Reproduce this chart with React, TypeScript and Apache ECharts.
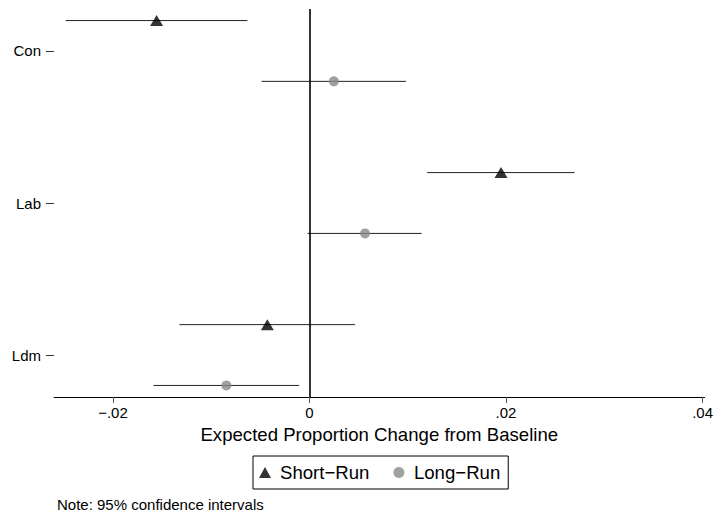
import React, { useEffect, useRef } from "react";
import * as echarts from "echarts";

// ---- Data ----
const categories = ["Con", "Lab", "Ldm"];
const shortRun = [-0.01556, 0.01949, -0.00429];
const shortLow = [-0.0248, 0.01198, -0.01323];
const shortHigh = [-0.00632, 0.02697, 0.00464];
const longRun = [0.00248, 0.00565, -0.00846];
const longLow = [-0.00487, -0.0002, -0.01587];
const longHigh = [0.00982, 0.01141, -0.00105];
const xTicks = [-0.02, 0, 0.02, 0.04];
const seriesNames = ["Short\u2212Run", "Long\u2212Run"];
const xTitle = "Expected Proportion Change from Baseline";
const note = "Note: 95% confidence intervals";

const FONT = "'Liberation Sans', Arial, Helvetica, sans-serif";

function fmtTick(v: number): string {
  if (Math.abs(v) < 1e-12) return "0";
  const s = Math.abs(v).toFixed(2).replace(/^0/, "");
  return v < 0 ? "\u2212" + s : s;
}

export default function App() {
  const ref = useRef<HTMLDivElement>(null);

  useEffect(() => {
    if (!ref.current) return;
    const chart = echarts.init(ref.current, undefined, { renderer: "svg" });

    const n = categories.length;
    const rowPos = categories.map((_, i) => n - i);
    const yTickVals = rowPos.slice();

    const shortPts = shortRun.map((v, i) => [v, rowPos[i] + 0.2]);
    const longPts = longRun.map((v, i) => [v, rowPos[i] - 0.2]);
    const shortCI = shortLow.map((lo, i) => [lo, shortHigh[i], rowPos[i] + 0.2]);
    const longCI = longLow.map((lo, i) => [lo, longHigh[i], rowPos[i] - 0.2]);

    const ciRender = (params: any, api: any) => {
      const p1 = api.coord([api.value(0), api.value(2)]);
      const p2 = api.coord([api.value(1), api.value(2)]);
      return {
        type: "line",
        shape: { x1: p1[0], y1: p1[1], x2: p2[0], y2: p2[1] },
        style: { stroke: "#222", lineWidth: 1 },
      };
    };

    const option: any = {
      animation: false,
      backgroundColor: "#fff",
      textStyle: { fontFamily: FONT },
      grid: { left: 54, right: 10, top: 9, bottom: 118, containLabel: false },
      xAxis: {
        type: "value",
        min: -0.026,
        max: 0.0402,
        name: xTitle,
        nameLocation: "middle",
        nameGap: 21,
        nameTextStyle: { fontSize: 18.6, color: "#000", fontFamily: FONT },
        axisLine: { show: true, onZero: false, lineStyle: { color: "#000", width: 1 } },
        axisTick: {
          show: true,
          length: 6,
          customValues: xTicks,
          lineStyle: { color: "#555", width: 1 },
        },
        axisLabel: {
          show: true,
          customValues: xTicks,
          formatter: (v: number) => fmtTick(v),
          fontSize: 15,
          color: "#000",
          fontFamily: FONT,
          margin: 8,
        },
        splitLine: { show: false },
      },
      yAxis: {
        type: "value",
        min: 0.724,
        max: 3.276,
        axisLine: { show: false, onZero: false },
        axisTick: {
          show: true,
          length: 8,
          customValues: yTickVals,
          lineStyle: { color: "#333", width: 1 },
        },
        axisLabel: {
          show: true,
          customValues: yTickVals,
          formatter: (v: number) => {
            const idx = rowPos.findIndex((p) => Math.abs(p - v) < 1e-6);
            return idx >= 0 ? categories[idx] : "";
          },
          fontSize: 15,
          color: "#000",
          fontFamily: FONT,
          margin: 13,
        },
        splitLine: { show: false },
      },
      legend: {
        show: true,
        data: [
          { name: seriesNames[0], icon: "triangle" },
          { name: seriesNames[1], icon: "circle" },
        ],
        left: 253,
        top: 456,
        orient: "horizontal",
        padding: [7, 8, 7, 6],
        itemGap: 24,
        itemWidth: 12,
        itemHeight: 11,
        borderColor: "#000",
        borderWidth: 1,
        borderRadius: 0,
        backgroundColor: "#fff",
        textStyle: { fontSize: 18.6, color: "#000", fontFamily: FONT, padding: [0, 0, 0, 4] },
      },
      graphic: [
        {
          type: "text",
          left: 57,
          top: 497,
          style: { text: note, fontSize: 15, fill: "#000", fontFamily: FONT },
        },
      ],
      series: [
        {
          type: "custom",
          name: "shortCI",
          renderItem: ciRender,
          data: shortCI,
          encode: { x: [0, 1], y: 2 },
          z: 2,
          silent: true,
          markLine: {
            silent: true,
            symbol: ["none", "none"],
            label: { show: false },
            lineStyle: { color: "#000", width: 1.6, type: "solid" },
            data: [{ xAxis: 0 }],
          },
        },
        {
          type: "custom",
          name: "longCI",
          renderItem: ciRender,
          data: longCI,
          encode: { x: [0, 1], y: 2 },
          z: 2,
          silent: true,
        },
        {
          type: "scatter",
          name: seriesNames[0],
          data: shortPts,
          symbol: "triangle",
          symbolSize: [13, 11],
          itemStyle: { color: "#000" },
          z: 5,
        },
        {
          type: "scatter",
          name: seriesNames[1],
          data: longPts,
          symbol: "circle",
          symbolSize: 10,
          itemStyle: { color: "#888" },
          z: 5,
        },
      ],
    };

    chart.setOption(option);
    return () => chart.dispose();
  }, []);

  return (
    <div
      ref={ref}
      style={{ position: "fixed", left: 0, top: 0, width: 716, height: 515, background: "#fff" }}
    />
  );
}
